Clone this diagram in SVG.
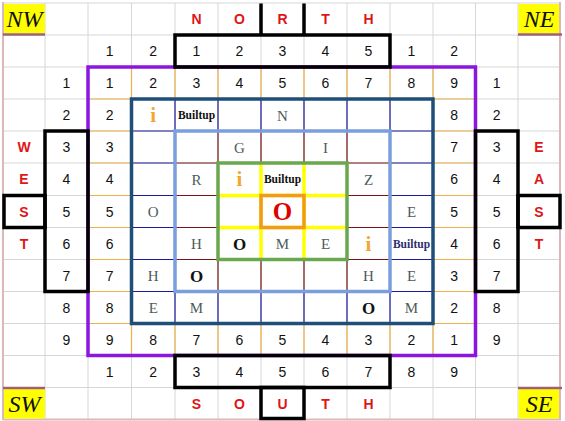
<svg xmlns="http://www.w3.org/2000/svg" width="565" height="421" viewBox="0 0 565 421">
<style>
.grid{stroke:#d6d6d6;stroke-width:1;fill:none}
.or{stroke:#eeb048;stroke-width:1.2;fill:none}
.nv{stroke:#1a1a9c;stroke-width:1.2;fill:none}
.mr{stroke:#7a1515;stroke-width:1.2;fill:none}
.thick{fill:none;stroke-width:3.5}
.num{font-family:"Liberation Sans",Arial,sans-serif;font-size:14px;fill:#111;text-anchor:middle}
.dir{font-family:"Liberation Sans",Arial,sans-serif;font-size:14px;font-weight:bold;fill:#e01515;text-anchor:middle}
.lt{font-family:"Liberation Serif","Times New Roman",serif;font-size:15px;fill:#4f5a5a;text-anchor:middle}
.bo{font-family:"Liberation Serif","Times New Roman",serif;font-size:17px;font-weight:bold;fill:#111;text-anchor:middle}
.ii{font-family:"Liberation Serif","Times New Roman",serif;font-size:21px;font-weight:bold;fill:#f0a830;text-anchor:middle}
.bt{font-family:"Liberation Serif","Times New Roman",serif;font-size:11.5px;font-weight:bold;fill:#111;text-anchor:middle}
.cor{font-family:"Liberation Serif","Times New Roman",serif;font-size:24px;font-style:italic;fill:#111;text-anchor:middle}
.yb{fill:#ffff00}
.mv{stroke:#a0607a;stroke-width:2.5}
</style>
<rect x="0" y="0" width="565" height="421" fill="#ffffff"/>
<g id="grid">
<path class="grid" d="M3,3 H560 M3,35 H560 M3,67 H560 M3,99 H560 M3,131 H560 M3,163 H560 M3,195.5 H560 M3,227.5 H560 M3,259.5 H560 M3,291.5 H560 M3,323.5 H560 M3,355.5 H560 M3,387.5 H560"/>
<path class="grid" d="M45,3 V419.5 M88,3 V419.5 M131.5,3 V419.5 M175,3 V419.5 M218,3 V419.5 M261,3 V419.5 M304,3 V419.5 M347,3 V419.5 M390,3 V419.5 M433,3 V419.5 M475.5,3 V419.5 M518,3 V419.5"/>
<path d="M3,2 V420 M560,2 V420 M3,419.5 H561" stroke="#dcb8b8" stroke-width="2" fill="none"/>
</g>
<g id="inner-lines">
<path class="or" d="M131.5,67 V99 M175,67 V99 M218,67 V99 M261,67 V99 M304,67 V99 M347,67 V99 M390,67 V99 M433,67 V99 M131.5,323.5 V355.5 M175,323.5 V355.5 M218,323.5 V355.5 M261,323.5 V355.5 M304,323.5 V355.5 M347,323.5 V355.5 M390,323.5 V355.5 M433,323.5 V355.5 M88,99 H131.5 M88,131 H131.5 M88,163 H131.5 M88,195.5 H131.5 M88,227.5 H131.5 M88,259.5 H131.5 M88,291.5 H131.5 M88,323.5 H131.5 M433,99 H475.5 M433,131 H475.5 M433,163 H475.5 M433,195.5 H475.5 M433,227.5 H475.5 M433,259.5 H475.5 M433,291.5 H475.5 M433,323.5 H475.5"/>
<path class="nv" d="M175,99 V131 M218,99 V131 M261,99 V131 M304,99 V131 M347,99 V131 M390,99 V131 M175,291.5 V323.5 M218,291.5 V323.5 M261,291.5 V323.5 M304,291.5 V323.5 M347,291.5 V323.5 M390,291.5 V323.5 M131.5,131 H175 M131.5,163 H175 M131.5,195.5 H175 M131.5,227.5 H175 M131.5,259.5 H175 M131.5,291.5 H175 M390,131 H433 M390,163 H433 M390,195.5 H433 M390,227.5 H433 M390,259.5 H433 M390,291.5 H433"/>
<path class="mr" d="M218,131 V163 M261,131 V163 M304,131 V163 M347,131 V163 M218,259.5 V291.5 M261,259.5 V291.5 M304,259.5 V291.5 M347,259.5 V291.5 M175,163 H218 M175,195.5 H218 M175,227.5 H218 M175,259.5 H218 M347,163 H390 M347,195.5 H390 M347,227.5 H390 M347,259.5 H390"/>
<path d="M261,163 V259.5 M304,163 V259.5 M218,195.5 H347 M218,227.5 H347" stroke="#ffff00" stroke-width="3.5" fill="none"/>
</g>
<g id="borders">
<rect class="thick" x="88" y="67" width="387.5" height="288.5" stroke="#8a16e0"/>
<rect class="thick" x="131.5" y="99" width="301.5" height="224.5" stroke="#1f4e79"/>
<rect class="thick" x="175" y="131" width="215" height="160.5" stroke="#7a9fdc"/>
<rect class="thick" x="218" y="163" width="129" height="96.5" stroke="#6aa84f"/>
<rect class="thick" x="261" y="195.5" width="43" height="32" stroke="#f29a1a"/>
<g stroke="#000" class="thick">
<rect x="175" y="35" width="215" height="32"/>
<path d="M261,3.5 V35 M304,3.5 V35"/>
<rect x="175" y="355.5" width="215" height="32"/>
<rect x="261" y="387.5" width="43" height="31"/>
<rect x="45" y="131" width="43" height="160.5"/>
<rect x="4" y="195.5" width="41" height="32"/>
<rect x="475.5" y="131" width="42.5" height="160.5"/>
<rect x="518" y="195.5" width="42" height="32"/>
</g>
</g>
<g id="corners">
<g id="nw"><rect class="yb" x="4" y="4" width="41" height="29.5"/><path class="mv" d="M3,34.5 H45"/><text class="cor" x="24.5" y="27">NW</text></g>
<g id="ne"><rect class="yb" x="518.5" y="4" width="40.5" height="29.5"/><path class="mv" d="M518,34.5 H562"/><text class="cor" x="539" y="27">NE</text></g>
<g id="sw"><rect class="yb" x="4" y="389" width="41" height="29.5"/><path class="mv" d="M3,388 H45"/><text class="cor" x="24.5" y="412">SW</text></g>
<g id="se"><rect class="yb" x="518.5" y="389" width="40.5" height="29.5"/><path class="mv" d="M518,388 H562"/><text class="cor" x="539" y="412">SE</text></g>
</g>
<g id="directions">
<text class="dir" x="196.5" y="24">N</text><text class="dir" x="239.5" y="24">O</text><text class="dir" x="282.5" y="24">R</text><text class="dir" x="325.5" y="24">T</text><text class="dir" x="368.5" y="24">H</text>
<text class="dir" x="196.5" y="408.5">S</text><text class="dir" x="239.5" y="408.5">O</text><text class="dir" x="282.5" y="408.5">U</text><text class="dir" x="325.5" y="408.5">T</text><text class="dir" x="368.5" y="408.5">H</text>
<text class="dir" x="24" y="152">W</text><text class="dir" x="24" y="184.3">E</text><text class="dir" x="24" y="216.5">S</text><text class="dir" x="24" y="248.5">T</text>
<text class="dir" x="539" y="152">E</text><text class="dir" x="539" y="184.3">A</text><text class="dir" x="539" y="216.5">S</text><text class="dir" x="539" y="248.5">T</text>
</g>
<g id="numbers">
<text class="num" x="109.75" y="56">1</text><text class="num" x="153.25" y="56">2</text><text class="num" x="196.5" y="56">1</text><text class="num" x="239.5" y="56">2</text><text class="num" x="282.5" y="56">3</text><text class="num" x="325.5" y="56">4</text><text class="num" x="368.5" y="56">5</text><text class="num" x="411.5" y="56">1</text><text class="num" x="454.25" y="56">2</text>
<text class="num" x="66.5" y="88">1</text><text class="num" x="109.75" y="88">1</text><text class="num" x="153.25" y="88">2</text><text class="num" x="196.5" y="88">3</text><text class="num" x="239.5" y="88">4</text><text class="num" x="282.5" y="88">5</text><text class="num" x="325.5" y="88">6</text><text class="num" x="368.5" y="88">7</text><text class="num" x="411.5" y="88">8</text><text class="num" x="454.25" y="88">9</text><text class="num" x="496.75" y="88">1</text>
<text class="num" x="66.5" y="120">2</text><text class="num" x="109.75" y="120">2</text><text class="num" x="454.25" y="120">8</text><text class="num" x="496.75" y="120">2</text>
<text class="num" x="66.5" y="152">3</text><text class="num" x="109.75" y="152">3</text><text class="num" x="454.25" y="152">7</text><text class="num" x="496.75" y="152">3</text>
<text class="num" x="66.5" y="184.3">4</text><text class="num" x="109.75" y="184.3">4</text><text class="num" x="454.25" y="184.3">6</text><text class="num" x="496.75" y="184.3">4</text>
<text class="num" x="66.5" y="216.5">5</text><text class="num" x="109.75" y="216.5">5</text><text class="num" x="454.25" y="216.5">5</text><text class="num" x="496.75" y="216.5">5</text>
<text class="num" x="66.5" y="248.5">6</text><text class="num" x="109.75" y="248.5">6</text><text class="num" x="454.25" y="248.5">4</text><text class="num" x="496.75" y="248.5">6</text>
<text class="num" x="66.5" y="280.5">7</text><text class="num" x="109.75" y="280.5">7</text><text class="num" x="454.25" y="280.5">3</text><text class="num" x="496.75" y="280.5">7</text>
<text class="num" x="66.5" y="312.5">8</text><text class="num" x="109.75" y="312.5">8</text><text class="num" x="454.25" y="312.5">2</text><text class="num" x="496.75" y="312.5">8</text>
<text class="num" x="66.5" y="344.5">9</text><text class="num" x="109.75" y="344.5">9</text><text class="num" x="153.25" y="344.5">8</text><text class="num" x="196.5" y="344.5">7</text><text class="num" x="239.5" y="344.5">6</text><text class="num" x="282.5" y="344.5">5</text><text class="num" x="325.5" y="344.5">4</text><text class="num" x="368.5" y="344.5">3</text><text class="num" x="411.5" y="344.5">2</text><text class="num" x="454.25" y="344.5">1</text><text class="num" x="496.75" y="344.5">9</text>
<text class="num" x="109.75" y="376.5">1</text><text class="num" x="153.25" y="376.5">2</text><text class="num" x="196.5" y="376.5">3</text><text class="num" x="239.5" y="376.5">4</text><text class="num" x="282.5" y="376.5">5</text><text class="num" x="325.5" y="376.5">6</text><text class="num" x="368.5" y="376.5">7</text><text class="num" x="411.5" y="376.5">8</text><text class="num" x="454.25" y="376.5">9</text>
</g>
<g id="letters">
<text class="ii" x="153.25" y="122">i</text><text class="bt" x="196.5" y="119">Builtup</text><text class="lt" x="282.5" y="120.5">N</text>
<text class="lt" x="239.5" y="152.5">G</text><text class="lt" x="325.5" y="152.5">I</text>
<text class="lt" x="196.5" y="184.8">R</text><text class="ii" x="239.5" y="186">i</text><text class="bt" x="282.5" y="183.3">Builtup</text><text class="lt" x="368.5" y="184.8">Z</text>
<text class="lt" x="153.25" y="217">O</text><text x="282.5" y="219.5" font-family="Liberation Serif,Times New Roman,serif" font-size="25" font-weight="bold" fill="#e00000" text-anchor="middle">O</text><text class="lt" x="411.5" y="217">E</text>
<text class="lt" x="196.5" y="249">H</text><text class="bo" x="239.5" y="249.5">O</text><text class="lt" x="282.5" y="249">M</text><text class="lt" x="325.5" y="249">E</text><text class="ii" x="368.5" y="250.5">i</text><text class="bt" x="411.5" y="247.5" style="fill:#2e2e6e">Builtup</text>
<text class="lt" x="153.25" y="281">H</text><text class="bo" x="196.5" y="281.5">O</text><text class="lt" x="368.5" y="281">H</text><text class="lt" x="411.5" y="281">E</text>
<text class="lt" x="153.25" y="313">E</text><text class="lt" x="196.5" y="313">M</text><text class="bo" x="368.5" y="313.5">O</text><text class="lt" x="411.5" y="313">M</text>
</g>
</svg>
